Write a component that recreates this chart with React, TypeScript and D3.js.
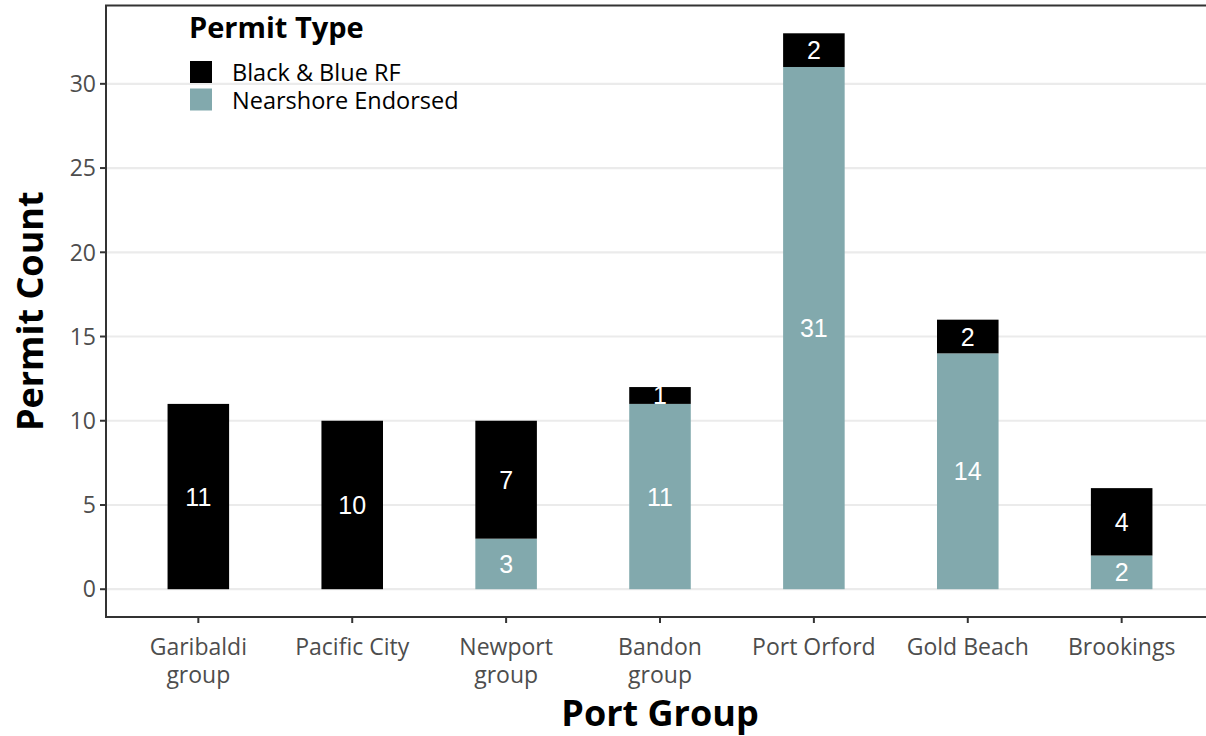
import React from "react";
import * as d3 from "d3";

const categories = ["Garibaldi group", "Pacific City", "Newport group", "Bandon group", "Port Orford", "Gold Beach", "Brookings"];
const categoryLines = [["Garibaldi", "group"], ["Pacific City"], ["Newport", "group"], ["Bandon", "group"], ["Port Orford"], ["Gold Beach"], ["Brookings"]];
const nearshore = [0, 0, 3, 11, 31, 14, 2];
const blackBlue = [11, 10, 7, 1, 2, 2, 4];
const yTicks = [0, 5, 10, 15, 20, 25, 30];
const seriesNames = ["Black & Blue RF", "Nearshore Endorsed"];
const seriesColors = ["#000000", "#82A9AD"];

const W = 1206, H = 736;
const panel = { left: 106, right: 1214, top: 5.5, bottom: 617 };
const FONT = "'Open Sans', 'Noto Sans', sans-serif";

export default function App() {
  const x = d3.scaleBand<string>().domain(categories).range([panel.left, panel.right]).paddingInner(0.6).paddingOuter(0.4);
  const maxTotal = d3.max(categories.map((_, i) => nearshore[i] + blackBlue[i])) as number;
  const ex = maxTotal * 0.05;
  const y = d3.scaleLinear().domain([-ex, maxTotal + ex]).range([panel.bottom, panel.top]);
  const bw = x.bandwidth();

  const segs: { key: string; x0: number; y0: number; y1: number; color: string; v: number }[] = [];
  categories.forEach((c, i) => {
    const n = nearshore[i], b = blackBlue[i];
    if (n > 0) segs.push({ key: c + "n", x0: x(c)!, y0: 0, y1: n, color: seriesColors[1], v: n });
    segs.push({ key: c + "b", x0: x(c)!, y0: n, y1: n + b, color: seriesColors[0], v: b });
  });

  return (
    <svg width={W} height={H} style={{ position: "absolute", left: 0, top: 0, background: "#fff" }} fontFamily={FONT}>
      {yTicks.map(t => (
        <line key={"g" + t} x1={panel.left} x2={W} y1={y(t)} y2={y(t)} stroke="#ebebeb" strokeWidth={2.2} />
      ))}
      {segs.map(s => (
        <rect key={s.key} x={s.x0} width={bw} y={y(s.y1)} height={y(s.y0) - y(s.y1)} fill={s.color} />
      ))}
      {segs.map(s => (
        <text key={s.key + "t"} x={s.x0 + bw / 2} y={y((s.y0 + s.y1) / 2)} dy="0.36em" textAnchor="middle" fill="#fff" fontSize={25} fontFamily="'Liberation Sans', Arial, sans-serif">{s.v}</text>
      ))}
      <rect x={panel.left} y={panel.top} width={panel.right - panel.left} height={panel.bottom - panel.top} fill="none" stroke="#333333" strokeWidth={2} />
      {yTicks.map(t => (
        <g key={"yt" + t}>
          <line x1={panel.left - 6} x2={panel.left} y1={y(t)} y2={y(t)} stroke="#333333" strokeWidth={2} />
          <text x={panel.left - 10} y={y(t)} dy="0.36em" textAnchor="end" fontSize={23} fill="#4d4d4d">{t}</text>
        </g>
      ))}
      {categories.map((c, i) => (
        <g key={"xt" + c}>
          <line x1={x(c)! + bw / 2} x2={x(c)! + bw / 2} y1={panel.bottom} y2={panel.bottom + 6} stroke="#333333" strokeWidth={2} />
          {categoryLines[i].map((l, j) => (
            <text key={j} x={x(c)! + bw / 2} y={655 + j * 28} textAnchor="middle" fontSize={23} fill="#4d4d4d">{l}</text>
          ))}
        </g>
      ))}
      <text x={(panel.left + panel.right) / 2} y={726} textAnchor="middle" fontSize={36} fontWeight="bold" fill="#000">Port Group</text>
      <text transform={`translate(43, ${(panel.top + panel.bottom) / 2}) rotate(-90)`} textAnchor="middle" fontSize={36} fontWeight="bold" fill="#000">Permit Count</text>
      <text x={189} y={38} fontSize={29} fontWeight="bold" fill="#000">Permit Type</text>
      {seriesNames.map((s, i) => (
        <g key={s}>
          <rect x={190} y={61 + i * 27.5} width={22} height={22} fill={seriesColors[i]} />
          <text x={232} y={73 + i * 28} dy="0.36em" fontSize={23.5} fill="#000">{s}</text>
        </g>
      ))}
    </svg>
  );
}
